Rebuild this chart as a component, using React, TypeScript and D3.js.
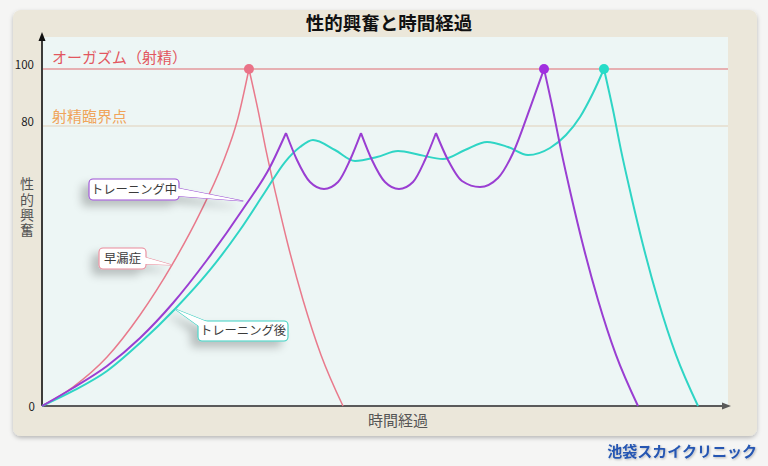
import React, { useEffect, useRef } from "react";
import * as d3 from "d3";

type P = [number, number];

// [time (0-100), arousal (0-100)]
const pinkRise: P[] = [[0, 0], [4.52, 5.43], [9.48, 14.0], [14.29, 26.0], [18.95, 40.3], [23.03, 55.1], [26.24, 68.9], [28.57, 82.8], [30.17, 100]];
const pinkFall: P[] = [[30.17, 100], [31.49, 85.6], [32.65, 73.1], [34.11, 60.3], [35.86, 46.0], [38.05, 30.3], [40.67, 14.6], [43.88, 0]];

const purpleRise: P[] = [[0, 0], [4.52, 5.14], [9.48, 11.43], [14.29, 19.43], [19.1, 29.43], [24.05, 41.71], [29.3, 56.29], [33.24, 68.29], [35.57, 78.0]];
const purpleWave1: P[] = [[35.57, 78.0], [37.17, 70.29], [39.07, 64.0], [41.11, 62.0], [43.15, 64.0], [44.9, 70.29], [46.5, 78.0]];
const purpleWave2: P[] = [[46.5, 78.0], [48.1, 70.29], [50.0, 64.0], [52.04, 62.0], [54.08, 64.0], [55.83, 70.29], [57.43, 78.0]];
const purpleClimb: P[] = [[57.43, 78.0], [59.18, 70.29], [61.22, 64.29], [63.85, 62.57], [66.47, 65.14], [68.66, 72.29], [71.14, 86.3], [73.18, 100]];
const purpleFall: P[] = [[73.18, 100], [74.49, 85.6], [75.66, 73.1], [77.11, 60.3], [78.86, 46.0], [81.05, 30.3], [83.67, 14.6], [86.88, 0]];

const cyanRise: P[] = [[0, 0], [4.52, 4.29], [9.48, 10.0], [14.29, 18.0], [19.39, 27.71], [24.49, 38.86], [28.86, 50.29], [32.51, 61.14], [35.42, 69.71], [37.61, 74.0], [39.5, 76.0], [42.71, 73.14], [45.63, 70.0], [48.83, 71.14], [51.9, 72.86], [55.1, 71.71], [58.45, 70.57], [61.66, 73.14], [64.87, 75.43], [67.93, 74.0], [70.85, 71.71], [74.05, 73.71], [76.38, 77.43], [78.43, 83.16], [80.32, 91.58], [81.92, 100]];
const cyanFall: P[] = [[81.92, 100], [83.24, 85.6], [84.4, 73.1], [85.86, 60.3], [87.61, 46.0], [89.8, 30.3], [92.42, 14.6], [95.63, 0]];

const peaks: { t: number; v: number; color: string }[] = [
  { t: 30.17, v: 100, color: "#ea7388" },
  { t: 73.18, v: 100, color: "#a12fe0" },
  { t: 81.92, v: 100, color: "#27dcc8" },
];

const yTicks = [0, 80, 100];
const title = "性的興奮と時間経過";
const xTitle = "時間経過";
const yTitle = "性的興奮";
const orgasmLabel = "オーガズム（射精）";
const criticalLabel = "射精臨界点";
const credit = "池袋スカイクリニック";
const calloutTexts = ["トレーニング中", "早漏症", "トレーニング後"];

const FONT = "'Noto Sans CJK JP', 'Noto Sans', sans-serif";

export default function App() {
  const axisRef = useRef<SVGGElement>(null);
  const x = d3.scaleLinear().domain([0, 100]).range([42, 728]);
  const y = d3.scaleLinear().domain([0, 80, 100]).range([406, 126, 69]);
  const line = d3
    .line<P>()
    .x((d) => x(d[0]))
    .y((d) => y(d[1]))
    .curve(d3.curveMonotoneX);

  useEffect(() => {
    if (!axisRef.current) return;
    const g = d3.select(axisRef.current);
    g.selectAll("*").remove();
    g.call(
      d3
        .axisLeft(y)
        .tickValues(yTicks)
        .tickSize(0)
        .tickPadding(4)
        .tickFormat((d) => String(d))
    );
    g.select(".domain").remove();
    g.selectAll<SVGTextElement, number>("text")
      .attr("font-family", FONT)
      .attr("font-size", 11.5)
      .attr("fill", "#222")
      .attr("dy", (d) => (d === 0 ? "0.35em" : "-0.05em"))
      .attr("x", (d) => (d === 0 ? -3 : -4));
  }, []);

  const purpleTip: [number, number] = [x(29.3), y(56.29) - 8];
  const pinkTip: [number, number] = [x(18.95), y(40.3)];
  const cyanTip: [number, number] = [x(19.39), y(27.71)];

  const callouts = [
    { text: calloutTexts[0], color: "#9b4fd3", box: [89, 179, 90, 21], base: [[177, 188], [177, 196]], tip: purpleTip },
    { text: calloutTexts[1], color: "#e98a9a", box: [99, 248, 47, 21], base: [[144, 257], [144, 264]], tip: pinkTip },
    { text: calloutTexts[2], color: "#3fcfc1", box: [198, 321, 90, 20], base: [[200, 327], [209, 322.5]], tip: cyanTip },
  ];

  return (
    <svg
      width={768}
      height={466}
      style={{ position: "absolute", left: 0, top: 0, display: "block" }}
      fontFamily={FONT}
    >
      <defs>
        <filter id="cardShadow" x="-5%" y="-5%" width="110%" height="115%">
          <feDropShadow dx="0" dy="2" stdDeviation="2" floodColor="#000" floodOpacity="0.25" />
        </filter>
        <filter id="calloutShadow" x="-40%" y="-60%" width="180%" height="260%">
          <feDropShadow dx="-7" dy="6" stdDeviation="4" floodColor="#000" floodOpacity="0.22" />
        </filter>
        <filter id="textShadow" x="-10%" y="-30%" width="120%" height="160%">
          <feDropShadow dx="1" dy="1" stdDeviation="0.8" floodColor="#000" floodOpacity="0.25" />
        </filter>
      </defs>
      <rect x={0} y={0} width={768} height={466} fill="#f5f5f4" />
      <rect x={13} y={10} width={744} height={426} rx={8} fill="#ebe7da" filter="url(#cardShadow)" />
      <rect x={43} y={37} width={685} height={369} fill="#edf6f5" />

      <text x={389} y={30} textAnchor="middle" fontSize={18.5} fontWeight={700} fill="#111">
        {title}
      </text>

      {/* reference lines */}
      <line x1={43} x2={728} y1={y(80)} y2={y(80)} stroke="#e4ddcc" strokeWidth={1.6} />
      <line x1={43} x2={728} y1={y(100)} y2={y(100)} stroke="#e06b70" strokeWidth={1.2} />
      <text x={52} y={63} fontSize={15} fill="#e2575f">
        {orgasmLabel}
      </text>
      <text x={52} y={122} fontSize={15} fill="#f0a45a">
        {criticalLabel}
      </text>

      {/* axes */}
      <line x1={42} x2={42} y1={406} y2={40} stroke="#111" strokeWidth={1.6} />
      <path d="M42,32 L38.5,41 L45.5,41 Z" fill="#111" />
      <line x1={42} x2={724} y1={406} y2={406} stroke="#5a5a5a" strokeWidth={1.8} />
      <path d="M731,406 L722,402.5 L722,409.5 Z" fill="#5a5a5a" />
      <g ref={axisRef} transform="translate(38,0)" />

      <text
        x={27}
        y={177}
        fontSize={14}
        fill="#555"
        style={{ writingMode: "vertical-rl", textOrientation: "upright", letterSpacing: "1.3px" } as React.CSSProperties}
      >
        {yTitle}
      </text>
      <text x={398} y={426} textAnchor="middle" fontSize={15} fill="#555">
        {xTitle}
      </text>

      {/* curves */}
      {[pinkRise, pinkFall].map((d, i) => (
        <path key={"p" + i} d={line(d) || ""} fill="none" stroke="#e97a8c" strokeWidth={1.5} />
      ))}
      {[cyanRise, cyanFall].map((d, i) => (
        <path key={"c" + i} d={line(d) || ""} fill="none" stroke="#2fd5c5" strokeWidth={2} />
      ))}
      {[purpleRise, purpleWave1, purpleWave2, purpleClimb, purpleFall].map((d, i) => (
        <path key={"u" + i} d={line(d) || ""} fill="none" stroke="#9a3ed2" strokeWidth={2} />
      ))}
      {peaks.map((p, i) => (
        <circle key={i} cx={x(p.t)} cy={y(p.v)} r={5} fill={p.color} />
      ))}

      {/* callouts */}
      {callouts.map((c, i) => {
        const [bx, by, bw, bh] = c.box;
        const tail = `M${c.base[0][0]},${c.base[0][1]} L${c.tip[0]},${c.tip[1]} L${c.base[1][0]},${c.base[1][1]} Z`;
        return (
          <g key={i}>
            <g filter="url(#calloutShadow)">
              <path d={tail} fill="#fff" stroke={c.color} strokeWidth={1.1} strokeLinejoin="round" />
              <rect x={bx} y={by} width={bw} height={bh} rx={4} fill="#fff" stroke={c.color} strokeWidth={1.1} />
            </g>
            <path d={tail} fill="#fff" stroke="none" />
            <text x={bx + bw / 2} y={by + bh / 2 + 4.3} textAnchor="middle" fontSize={12.3} fill="#3a3a3a">
              {c.text}
            </text>
          </g>
        );
      })}

      <text x={757} y={457} textAnchor="end" fontSize={15} fontWeight={700} fill="#2556b2" filter="url(#textShadow)">
        {credit}
      </text>
    </svg>
  );
}
